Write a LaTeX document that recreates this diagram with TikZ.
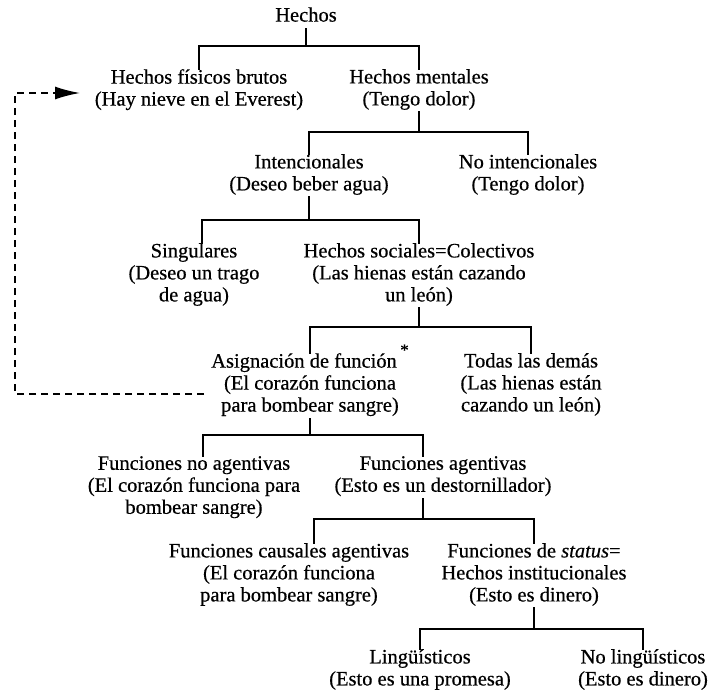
\documentclass[tikz,border=0pt]{standalone}
\usepackage{fontspec}
\setmainfont[FakeBold=0.5]{Liberation Serif}
\usetikzlibrary{arrows.meta}
\begin{document}
\begin{tikzpicture}[x=1pt,y=1pt,
  lbl/.style={anchor=north, align=center, inner sep=0pt,
    font=\fontsize{20.5}{22}\selectfont,
    execute at begin node=\strut, execute at end node=\strut},
  tree/.style={line width=1.5pt, line cap=rect},
  loopline/.style={line width=1.6pt, dash pattern=on 7pt off 5pt,
    -{Latex[length=25pt,width=13pt]}}]
\fill[white] (0,0) rectangle (710,-693);
\useasboundingbox (0,0) rectangle (710,-693);

% nodes
\node[lbl] (hechos) at (306,-6) {Hechos};
\node[lbl] (fis) at (199,-69) {Hechos físicos brutos\\(Hay nieve en el Everest)};
\node[lbl] (men) at (419,-69) {Hechos mentales\\(Tengo dolor)};
\node[lbl] (int) at (309,-154) {Intencionales\\(Deseo beber agua)};
\node[lbl] (noint) at (528,-154) {No intencionales\\(Tengo dolor)};
\node[lbl] (sing) at (194,-243) {Singulares\\(Deseo un trago\\de agua)};
\node[lbl] (soc) at (419,-243) {Hechos sociales=Colectivos\\(Las hienas están cazando\\un león)};
\node[lbl] (asig) at (310,-353) {Asignación de función\,\smash{\raisebox{12pt}{\fontsize{17}{17}\selectfont *}}\\(El corazón funciona\\para bombear sangre)};
\node[lbl] (todas) at (531,-353) {Todas las demás\\(Las hienas están\\cazando un león)};
\node[lbl] (noag) at (194,-456) {Funciones no agentivas\\(El corazón funciona para\\bombear sangre)};
\node[lbl] (ag) at (443,-456) {Funciones agentivas\\(Esto es un destornillador)};
\node[lbl] (caus) at (289,-543) {Funciones causales agentivas\\(El corazón funciona\\para bombear sangre)};
\node[lbl] (stat) at (534,-543) {Funciones de \textit{status}=\\Hechos institucionales\\(Esto es dinero)};
\node[lbl] (ling) at (420,-649) {Lingüísticos\\(Esto es una promesa)};
\node[lbl] (noling) at (643,-649) {No lingüísticos\\(Esto es dinero)};

% bar levels
\coordinate (y1) at (0,-46);
\coordinate (y2) at (0,-132);
\coordinate (y3) at (0,-220);
\coordinate (y4) at (0,-327);
\coordinate (y5) at (0,-435);
\coordinate (y6) at (0,-519);
\coordinate (y7) at (0,-629);

% offset attachment points
\coordinate (singT) at ([xshift=8pt]sing.north);
\coordinate (noagT) at ([xshift=9pt]noag.north);
\coordinate (agT) at ([xshift=-20pt]ag.north);
\coordinate (agB) at ([xshift=-20pt]ag.south);
\coordinate (causT) at ([xshift=25pt]caus.north);

% connectors
\draw[tree] (hechos.south) -- (hechos.south |- y1);
\draw[tree] (fis.north) -- (fis.north |- y1) -- (men.north |- y1) -- (men.north);

\draw[tree] (men.south) -- (men.south |- y2);
\draw[tree] (int.north) -- (int.north |- y2) -- (noint.north |- y2) -- (noint.north);

\draw[tree] (int.south) -- (int.south |- y3);
\draw[tree] (singT) -- (singT |- y3) -- (soc.north |- y3) -- (soc.north);

\draw[tree] (soc.south) -- (soc.south |- y4);
\draw[tree] (asig.north) -- (asig.north |- y4) -- (todas.north |- y4) -- (todas.north);

\draw[tree] (asig.south) -- (asig.south |- y5);
\draw[tree] (noagT) -- (noagT |- y5) -- (agT |- y5) -- (agT);

\draw[tree] (agB) -- (agB |- y6);
\draw[tree] (causT) -- (causT |- y6) -- (stat.north |- y6) -- (stat.north);

\draw[tree] (stat.south) -- (stat.south |- y7);
\draw[tree] (ling.north) -- (ling.north |- y7) -- (noling.north |- y7) -- (noling.north);

% dashed feedback arrow
\coordinate (dstart) at (204,-394);
\coordinate (dcorner) at (15,-93);
\coordinate (dtip) at (80,-93);
\draw[loopline] (dstart) -| (dcorner) -- (dtip);
\end{tikzpicture}
\end{document}
